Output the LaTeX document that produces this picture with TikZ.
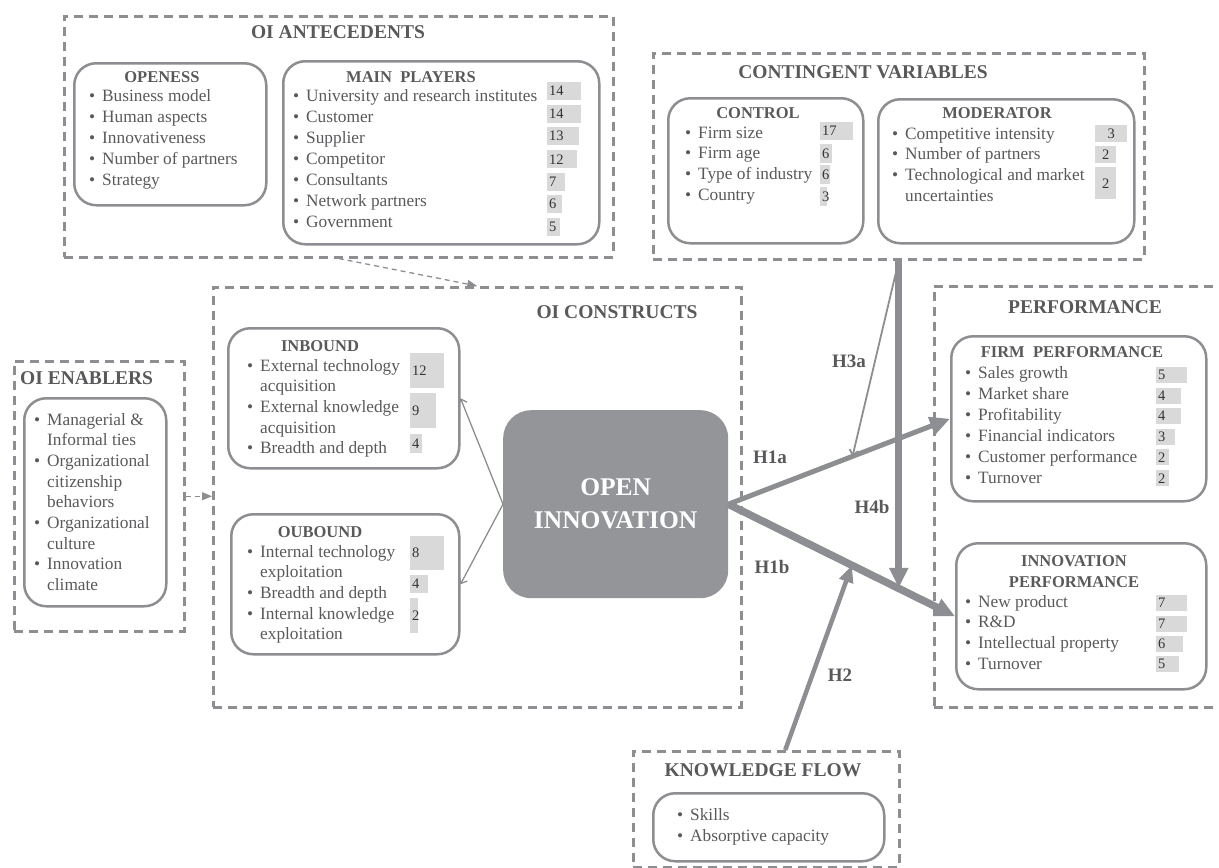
\documentclass[tikz,border=0pt]{standalone}
\usepackage{fontspec}
\setmainfont{Liberation Serif}
\usetikzlibrary{arrows.meta,calc}
\definecolor{linegray}{RGB}{141,142,145}
\definecolor{oigray}{RGB}{147,149,152}
\definecolor{bargray}{RGB}{217,217,217}
\definecolor{txtgray}{RGB}{89,89,91}
\newcommand{\bul}{\makebox[13pt][l]{\textbullet}}
\newcommand{\ind}{\hspace*{13pt}}

\begin{document}
\begin{tikzpicture}[x=1pt,y=-1pt]
\useasboundingbox (0,0) rectangle (1219,868);
\clip (0,0) rectangle (1219,868);

\tikzstyle{dashbox}=[draw=linegray,line width=2.5pt,dash pattern=on 9pt off 6pt,anchor=north west,inner sep=0pt]
\tikzstyle{rbox}=[draw=linegray,line width=2.5pt,rounded corners=22pt,anchor=north west,inner sep=0pt]
\tikzstyle{title}=[text=txtgray,font=\fontsize{19.5}{22}\selectfont\bfseries,inner sep=0pt]
\tikzstyle{head}=[text=txtgray,font=\fontsize{16.5}{21}\selectfont\bfseries,inner sep=0pt,align=center]
\tikzstyle{entry}=[text=txtgray,font=\fontsize{17.3}{21}\selectfont,anchor=west,inner sep=0pt,text height=12pt,text depth=4pt]
\tikzstyle{bar}=[fill=bargray,anchor=north west,inner sep=0pt,align=left,text=black!80,font=\fontsize{14.5}{16}\selectfont]
\tikzstyle{hyp}=[text=txtgray,font=\fontsize{19}{22}\selectfont\bfseries,inner sep=0pt]
\tikzstyle{thick arrow}=[draw=linegray,-{Triangle[length=20pt,width=18pt]}]
\tikzstyle{thin arrow}=[draw=linegray,line width=1.3pt,-{Straight Barb[length=5pt,width=9pt]}]
\tikzstyle{dash arrow}=[draw=linegray,line width=1.3pt,dash pattern=on 5pt off 4pt,-{Triangle[length=10pt,width=8pt]}]

\node[dashbox,minimum width=549,minimum height=241] (ante) at (63,15) {};
\node[title] at (338,32) {OI ANTECEDENTS};
\node[rbox,minimum width=192,minimum height=142] (openess) at (73,62) {};
\node[head] at (162,77) {OPENESS};
\foreach \t [count=\i] in {Business model,Human aspects,Innovativeness,Number of partners,Strategy}
  \node[entry] (op\i) at (89,76+21*\i) {\bul\t};
\node[rbox,minimum width=316,minimum height=183] (players) at (282,60) {};
\node[head] at (411,77) {MAIN\ \ PLAYERS};
\foreach \t [count=\i] in {University and research institutes,Customer,Supplier,Competitor,Consultants,Network partners,Government}
  \node[entry] (mp\i) at (293,76+21*\i) {\bul\t};
\foreach \y/\w/\n [count=\i] in {82/34/14,105/34/14,127/32/13,150/30/12,173/18/7,195/15/6,218/13/5}
  \node[bar,text width=\w pt,minimum height=18] (mpbar\i) at (547,\y) {\hspace*{2pt}\n};

\node[dashbox,minimum width=491,minimum height=206] (cont) at (652,52) {};
\node[title] at (863,72) {CONTINGENT VARIABLES};
\node[rbox,minimum width=195,minimum height=145] (control) at (667,97) {};
\node[head] at (758,113) {CONTROL};
\foreach \t [count=\i] in {Firm size,Firm age,Type of industry,Country}
  \node[entry] (ct\i) at (685,113.3+20.7*\i) {\bul\t};
\foreach \y/\w/\h/\n [count=\i] in {122/33/18/17,144/12/19/6,165/10/19/6,187/7/19/3}
  \node[bar,text width=\w pt,minimum height=\h] (ctbar\i) at (820,\y) {\hspace*{2pt}\n};
\node[rbox,minimum width=256,minimum height=144] (moder) at (877,98) {};
\node[head] at (997,113) {MODERATOR};
\foreach \t [count=\i] in {\bul Competitive intensity,\bul Number of partners,\bul Technological and market,\ind uncertainties}
  \node[entry] (md\i) at (892,114.3+20.7*\i) {\t};
\foreach \y/\w/\h/\n [count=\i] in {125/32/17/3,146/21/17/2,167/21/32/2}
  \node[bar,align=center,text width=\w pt,minimum height=\h] (mdbar\i) at (1095,\y) {\n};

\node[dashbox,minimum width=170,minimum height=270] (enab) at (13,360) {};
\node[title,anchor=west] at (20,378) {OI ENABLERS};
\node[rbox,minimum width=142,minimum height=208] (enablist) at (23,397) {};
\foreach \t [count=\i] in {\bul Managerial \&,\ind Informal ties,\bul Organizational,\ind citizenship,\ind behaviors,\bul Organizational,\ind culture,\bul Innovation,\ind climate}
  \node[entry] (en\i) at (34,400.3+20.7*\i) {\t};

\node[dashbox,minimum width=528,minimum height=420] (cons) at (212,286) {};
\node[title] at (617,312) {OI CONSTRUCTS};
\node[rbox,minimum width=231,minimum height=140] (inb) at (227,327) {};
\node[head] at (320,346) {INBOUND};
\foreach \t [count=\i] in {\bul External technology,\ind acquisition,\bul External knowledge,\ind acquisition,\bul Breadth and depth}
  \node[entry] (in\i) at (247,346.3+20.7*\i) {\t};
\foreach \y/\w/\h/\n [count=\i] in {353/34/35/12,393/26/35/9,434/12/19/4}
  \node[bar,text width=\w pt,minimum height=\h] (inbar\i) at (410,\y) {\hspace*{2pt}\n};
\node[rbox,minimum width=228,minimum height=140] (outb) at (230,513) {};
\node[head] at (320,532) {OUBOUND};
\foreach \t [count=\i] in {\bul Internal technology,\ind exploitation,\bul Breadth and depth,\bul Internal knowledge,\ind exploitation}
  \node[entry] (ou\i) at (247,532.3+20.7*\i) {\t};
\foreach \y/\w/\h/\n [count=\i] in {536/34/34/8,575/18/18/4,598/8/35/2}
  \node[bar,text width=\w pt,minimum height=\h] (oubar\i) at (410,\y) {\hspace*{2pt}\n};

\node[fill=oigray,rounded corners=28pt,anchor=north west,minimum width=225,minimum height=188,text=white,align=center,font=\fontsize{25.5}{33}\selectfont\bfseries] (oi) at (503,410) {OPEN\\INNOVATION};

\node[dashbox,minimum width=304,minimum height=421] (perf) at (933,285) {};
\node[title] at (1085,307) {PERFORMANCE};
\node[rbox,minimum width=255,minimum height=165] (firm) at (950,335) {};
\node[head] at (1072,352) {FIRM\ \ PERFORMANCE};
\foreach \t [count=\i] in {Sales growth,Market share,Profitability,Financial indicators,Customer performance,Turnover}
  \node[entry] (fp\i) at (965,353+21*\i) {\bul\t};
\foreach \y/\w/\n [count=\i] in {367/31/5,388/25/4,408/25/4,429/19/3,449/13/2,470/13/2}
  \node[bar,text width=\w pt,minimum height=16] (fpbar\i) at (1156,\y) {\hspace*{2pt}\n};
\node[rbox,minimum width=250,minimum height=146] (innov) at (955,542) {};
\node[head] at (1074,571.5) {INNOVATION\\PERFORMANCE};
\foreach \t [count=\i] in {New product,R\&D,Intellectual property,Turnover}
  \node[entry] (ip\i) at (965,582.3+20.7*\i) {\bul\t};
\foreach \y/\w/\n [count=\i] in {595/31/7,616/31/7,636/27/6,656/23/5}
  \node[bar,text width=\w pt,minimum height=16] (ipbar\i) at (1156,\y) {\hspace*{2pt}\n};

\node[dashbox,minimum width=266,minimum height=116] (know) at (632,750) {};
\node[title] at (763,770) {KNOWLEDGE FLOW};
\node[rbox,minimum width=231,minimum height=68] (knowlist) at (652,792) {};
\foreach \t [count=\i] in {Skills,Absorptive capacity}
  \node[entry] (kf\i) at (677,795+21*\i) {\bul\t};

\coordinate (h3) at ($(oi.east)!0.56!(firm.west)$);
\coordinate (h4) at ($(oi.east)!0.747!(innov.west)$);
\coordinate (h2) at ($(oi.east)!0.545!(innov.west)$);

\draw[dash arrow] (ante.south) -- (cons.north);
\draw[dash arrow] (enab.east) -- (enab.east -| cons.west);
\draw[thin arrow] (oi.west) -- (inb.east);
\draw[thin arrow] (oi.west) -- (outb.east);
\draw[thick arrow,line width=5pt] (oi.east) -- (firm.west);
\draw[thick arrow,line width=7.5pt] (oi.east) -- (innov.west);
\draw[thick arrow,line width=7pt] (cont.south) -- (cont.south |- h4);
\draw[thin arrow,line width=1.8pt] (cont.south) -- (h3);
\draw[draw=linegray,line width=4.5pt,-{Triangle[length=17pt,width=14pt]}] ([xshift=19pt]know.north) -- (h2);

\node[hyp] (h1a) at (770,457) {H1a};
\node[hyp] (h1b) at (772,567) {H1b};
\node[hyp] (h3a) at (849,361) {H3a};
\node[hyp] (h4b) at (872,507) {H4b};
\node[hyp] (h2l) at (840,675) {H2};
\end{tikzpicture}
\end{document}
